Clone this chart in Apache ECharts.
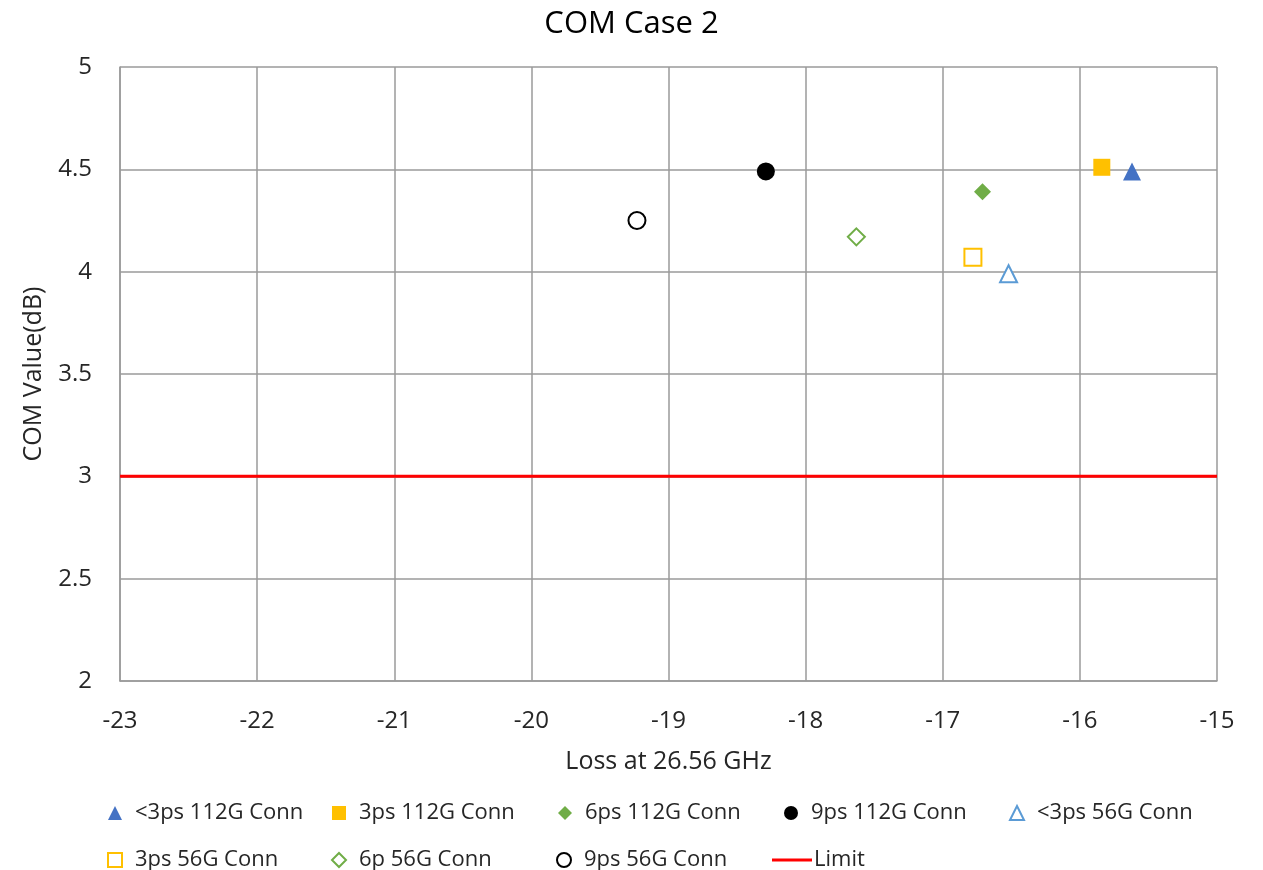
<!DOCTYPE html>
<html><head><meta charset="utf-8">
<script src="https://cdn.jsdelivr.net/npm/echarts@6/dist/echarts.min.js"></script>
<style>html,body{margin:0;padding:0;background:#fff}#c{width:1263px;height:870px}</style>
</head><body><div id="c"></div>
<script>
const seriesNames = ['<3ps 112G Conn','3ps 112G Conn','6ps 112G Conn','9ps 112G Conn','<3ps 56G Conn','3ps 56G Conn','6p 56G Conn','9ps 56G Conn'];
const lossX = [-15.62, -15.84, -16.71, -18.29, -16.52, -16.78, -17.63, -19.23];
const comY  = [4.49, 4.51, 4.39, 4.49, 3.99, 4.07, 4.17, 4.25];
const limitName = 'Limit';
const limitX = [-23, -15];
const limitY = [3, 3];

const styles = [
  {symbol:'triangle', size:18, fill:'#4472C4', stroke:'#4472C4', bw:0},
  {symbol:'rect', size:17, fill:'#FFC000', stroke:'#FFC000', bw:0},
  {symbol:'diamond', size:17, fill:'#70AD47', stroke:'#70AD47', bw:0},
  {symbol:'circle', size:18, fill:'#000000', stroke:'#000000', bw:0},
  {symbol:'triangle', size:17, fill:'#ffffff', stroke:'#5B9BD5', bw:2},
  {symbol:'rect', size:17, fill:'#ffffff', stroke:'#FFC000', bw:2},
  {symbol:'diamond', size:17, fill:'#ffffff', stroke:'#70AD47', bw:2},
  {symbol:'circle', size:17, fill:'#ffffff', stroke:'#000000', bw:2}
];
const FONT = 'Open Sans';
const TXT = '#262626';
const series = seriesNames.map((n,i)=>({
  name:n, type:'scatter', symbol:styles[i].symbol, symbolSize:styles[i].size,
  itemStyle:{color:styles[i].fill, borderColor:styles[i].stroke, borderWidth:styles[i].bw, opacity:1},
  data:[[lossX[i], comY[i]]], z:5
}));
series.push({name:limitName, type:'line', symbol:'none', showSymbol:false, lineStyle:{color:'#FF0000', width:3},
  itemStyle:{color:'#FF0000'}, data: limitX.map((x,i)=>[x, limitY[i]]), z:4});

// legend layout: marker centre x and row top y
const legCx = [110, 334, 560, 786, 1011, 109, 333, 558];
const legTop = [796, 796, 796, 796, 796, 843, 843, 843];
const legText = {fontFamily:FONT, fontSize:22, color:TXT, lineHeight:24, padding:[0,0,0,8]};
const legends = seriesNames.map((n,i)=>({
  data:[n], left:legCx[i]-7, top:legTop[i], itemWidth:14, itemHeight:14, itemGap:0, textStyle:legText
}));
legends.push({data:[{name:limitName, icon:'rect'}], left:767, top:843, itemWidth:40, itemHeight:3, itemGap:0,
  textStyle:Object.assign({}, legText, {padding:[0,0,0,-3]})});

const chart = echarts.init(document.getElementById('c'));
chart.setOption({
  animation:false,
  title:{text:'COM Case 2', left:'center', top:4, textStyle:{fontFamily:FONT, fontSize:31, fontWeight:'normal', color:'#000'}},
  grid:{left:120, right:46, top:67, bottom:189},
  xAxis:{type:'value', min:-23, max:-15, interval:1, name:'Loss at 26.56 GHz', nameLocation:'middle', nameGap:68,
    nameTextStyle:{fontFamily:FONT, fontSize:25, color:TXT},
    axisLine:{show:true, lineStyle:{color:'#9a9a9a', width:1.5}}, axisTick:{show:false},
    axisLabel:{fontFamily:FONT, fontSize:24, color:TXT, margin:28},
    splitLine:{show:true, lineStyle:{color:'#9a9a9a', width:1.5}}},
  yAxis:{type:'value', min:2, max:5, interval:0.5, name:'COM Value(dB)', nameLocation:'middle', nameGap:74,
    nameTextStyle:{fontFamily:FONT, fontSize:25, color:TXT},
    axisLine:{show:true, lineStyle:{color:'#9a9a9a', width:1.5}}, axisTick:{show:false},
    axisLabel:{fontFamily:FONT, fontSize:24, color:TXT, margin:28},
    splitLine:{show:true, lineStyle:{color:'#9a9a9a', width:1.5}}},
  legend:legends,
  series:series
});
</script></body></html>
